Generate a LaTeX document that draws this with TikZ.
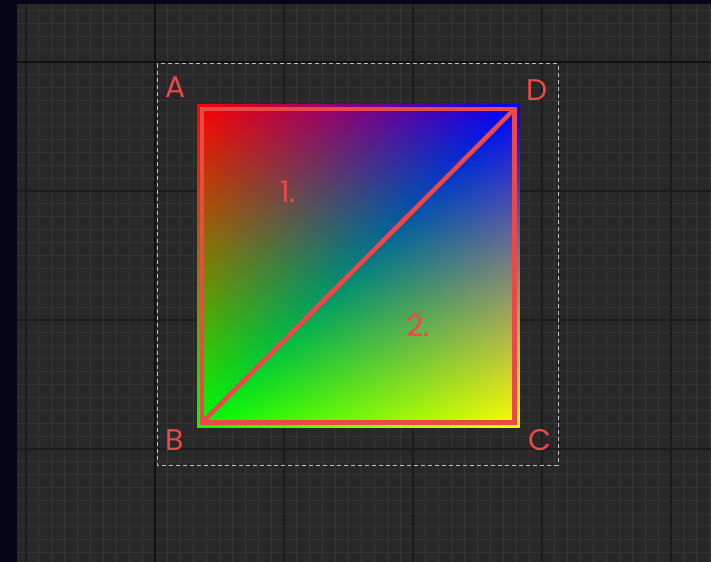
\documentclass[tikz,border=0pt]{standalone}
\usepackage{fontspec}
\setmainfont{Poppins}
\definecolor{bgcol}{HTML}{282828}
\definecolor{finegrid}{HTML}{343434}
\definecolor{majorgrid}{HTML}{1C1C1C}
\definecolor{axisgrid}{HTML}{111111}
\definecolor{stripcol}{HTML}{06051A}
\definecolor{redline}{HTML}{EB4848}
\definecolor{dashcol}{HTML}{BDBDBD}
\pgfdeclarefunctionalshading{quadshade}{\pgfpoint{0bp}{0bp}}{\pgfpoint{323bp}{323bp}}{}{
323 div exch 323 div exch
2 copy sub abs 3 1 roll
dup 1 exch sub 3 1 roll
2 copy gt {exch} if pop
}
\tikzset{
  fineline/.style={draw=finegrid, line width=1bp},
  majorline/.style={draw=majorgrid, line width=1.5bp},
  axisline/.style={draw=axisgrid, line width=2bp},
  redstroke/.style={draw=redline, line width=4.5bp},
  lab/.style={text=redline, font=\fontsize{30}{30}\selectfont, inner sep=0pt},
  selbox/.style={draw=dashcol, line width=1bp, dash pattern=on 4bp off 3bp}
}
\begin{document}
\begin{tikzpicture}[x=1bp, y=-1bp]
\useasboundingbox (0,0) rectangle (711,562);
\fill[bgcol] (0,0) rectangle (711,562);
% fine grid
\foreach \i in {-12,...,45} {
  \draw[fineline] (155+\i*12.9,0) -- (155+\i*12.9,562);
}
\foreach \i in {-5,...,40} {
  \draw[fineline] (0,62+\i*12.9) -- (711,62+\i*12.9);
}
% major grid
\foreach \i in {-1,1,2,3,4} {
  \draw[majorline] (155+\i*129,0) -- (155+\i*129,562);
}
\foreach \i in {1,2,3,4} {
  \draw[majorline] (0,62+\i*129) -- (711,62+\i*129);
}
\draw[axisline] (155,0) -- (155,562);
\draw[axisline] (0,62) -- (711,62);
% dark strips
\fill[stripcol] (0,0) rectangle (17,562);
\fill[stripcol] (0,0) rectangle (711,4);
% selection box
\draw[selbox] (157,64) rectangle (558,465);
% gradient square
\node[inner sep=0pt, outer sep=0pt] (sq) at (358,265.5) {\pgfuseshading{quadshade}};
% corners
\coordinate (A) at (202,109);
\coordinate (B) at (202,422.5);
\coordinate (C) at (514.5,422.5);
\coordinate (D) at (514.5,109);
\draw[redstroke] (A) -- (B) -- (C) -- (D) -- cycle;
\draw[redstroke] (B) -- (D);
% labels
\node[lab] (la) at (176,87) {A};
\node[lab] (ld) at (537,90) {D};
\node[lab] (lb) at (175,440) {B};
\node[lab] (lc) at (540,440) {C};
\node[lab] (l1) at (288,192) {1.};
\node[lab] (l2) at (418,326) {2.};
\end{tikzpicture}
\end{document}
